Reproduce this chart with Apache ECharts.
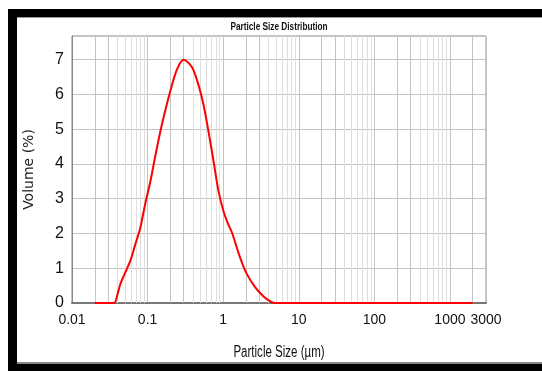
<!DOCTYPE html>
<html>
<head>
<meta charset="utf-8">
<script src="https://cdn.jsdelivr.net/npm/echarts@6/dist/echarts.min.js"></script>
<style>
  html, body { margin: 0; padding: 0; background: #fff; }
  #chart { width: 542px; height: 371px; }
</style>
</head>
<body>
<div id="chart"></div>
<script>
// particle size (um) and volume (%)
const sizes = [0.02, 0.03, 0.036, 0.04, 0.0435, 0.05, 0.059, 0.068, 0.08, 0.093,
  0.109, 0.127, 0.147, 0.172, 0.2, 0.245, 0.3, 0.387, 0.473, 0.551,
  0.641, 0.747, 0.869, 1.01, 1.15, 1.31, 1.68, 2.06, 2.66, 3.42,
  4.2, 4.9, 10, 100, 1000, 2000];
const volumes = [0, 0, 0, 0.25, 0.54, 0.85, 1.21, 1.65, 2.16, 2.85,
  3.5, 4.25, 4.92, 5.55, 6.1, 6.72, 7.0, 6.78, 6.26, 5.69,
  4.92, 4.07, 3.21, 2.64, 2.3, 2.02, 1.3, 0.83, 0.45, 0.19,
  0.05, 0, 0, 0, 0, 0];

// extra vertical grid lines inside each decade
const darkGrid = [0.02, 0.03, 0.2, 0.3, 2, 3, 20, 30, 200, 300, 2000];
const lightGrid = [0.04, 0.05, 0.06, 0.07, 0.08, 0.09,
  0.4, 0.5, 0.6, 0.7, 0.8, 0.9,
  4, 5, 6, 7, 8, 9,
  40, 50, 60, 70, 80, 90,
  400, 500, 600, 700, 800, 900];

const xMin = 0.01;
const xMax = 3000;
const yMax = 7.68;

const titleText = "Particle Size Distribution";
const xName = "Particle Size (µm)";
const yName = "Volume (%)";

const sans = "'Liberation Sans', Arial, sans-serif";

const chart = echarts.init(document.getElementById("chart"), null, { renderer: "canvas" });

function gridLines(values, color) {
  return {
    silent: true,
    symbol: ["none", "none"],
    label: { show: false },
    emphasis: { disabled: true },
    animation: false,
    lineStyle: { color: color, width: 1, type: "solid" },
    data: values.map((v) => ({ xAxis: v })),
  };
}

const option = {
  animation: false,
  backgroundColor: "#fff",
  grid: {
    left: 72,
    right: 56,
    top: 36,
    bottom: 68,
    show: true,
    borderColor: "#8a8a8a",
    borderWidth: 1,
    backgroundColor: "#fff",
  },
  xAxis: {
    type: "log",
    logBase: 10,
    min: xMin,
    max: xMax,
    axisLine: { show: true, lineStyle: { color: "#777", width: 2 } },
    axisTick: { show: false },
    axisLabel: {
      fontFamily: sans,
      fontSize: 14,
      color: "#111",
      margin: 10,
      formatter: (v) => String(+(+v).toPrecision(4)),
    },
    splitLine: { show: true, lineStyle: { color: "#c4c4c4", width: 1 } },
  },
  yAxis: {
    type: "value",
    min: 0,
    max: yMax,
    interval: 1,
    name: yName,
    nameLocation: "middle",
    nameGap: 36,
    nameRotate: 90,
    nameTextStyle: { fontFamily: "'DejaVu Sans', sans-serif", fontSize: 14, color: "#222" },
    axisLine: { show: true, lineStyle: { color: "#888", width: 1 } },
    axisTick: { show: false },
    axisLabel: {
      fontFamily: sans,
      fontSize: 16,
      color: "#111",
      margin: 8,
      showMaxLabel: false,
    },
    splitLine: { show: true, lineStyle: { color: "#c4c4c4", width: 1 } },
  },
  series: [
    {
      name: "grid",
      type: "line",
      z: 1,
      data: [],
      markLine: gridLines(lightGrid, "#dedede"),
    },
    {
      name: "grid2",
      type: "line",
      z: 1,
      data: [],
      markLine: gridLines(darkGrid, "#c4c4c4"),
    },
    {
      name: "Volume",
      type: "line",
      z: 5,
      data: sizes.map((s, i) => [s, volumes[i]]),
      showSymbol: false,
      smooth: 0.3,
      lineStyle: { color: "#ff0000", width: 2 },
    },
  ],
  graphic: [
    // black photo frame
    { type: "rect", shape: { x: 9, y: 9, width: 533, height: 8 }, style: { fill: "#000" }, silent: true },
    { type: "rect", shape: { x: 17, y: 17, width: 525, height: 1 }, style: { fill: "#999" }, silent: true },
    { type: "rect", shape: { x: 8, y: 9, width: 9, height: 362 }, style: { fill: "#000" }, silent: true },
    { type: "rect", shape: { x: 17, y: 362, width: 525, height: 2 }, style: { fill: "#888" }, silent: true },
    { type: "rect", shape: { x: 8, y: 364, width: 534, height: 7 }, style: { fill: "#000" }, silent: true },
    // condensed title and x axis name
    {
      type: "text", x: 279, y: 27, scaleX: 0.75, silent: true,
      style: { text: titleText, align: "center", verticalAlign: "middle",
        font: "bold 11px " + sans, fill: "#111" },
    },
    {
      type: "text", x: 279, y: 353, scaleX: 0.72, silent: true,
      style: { text: xName, align: "center", verticalAlign: "middle",
        font: "16px " + sans, fill: "#111" },
    },
  ],
};

chart.setOption(option);
</script>
</body>
</html>
